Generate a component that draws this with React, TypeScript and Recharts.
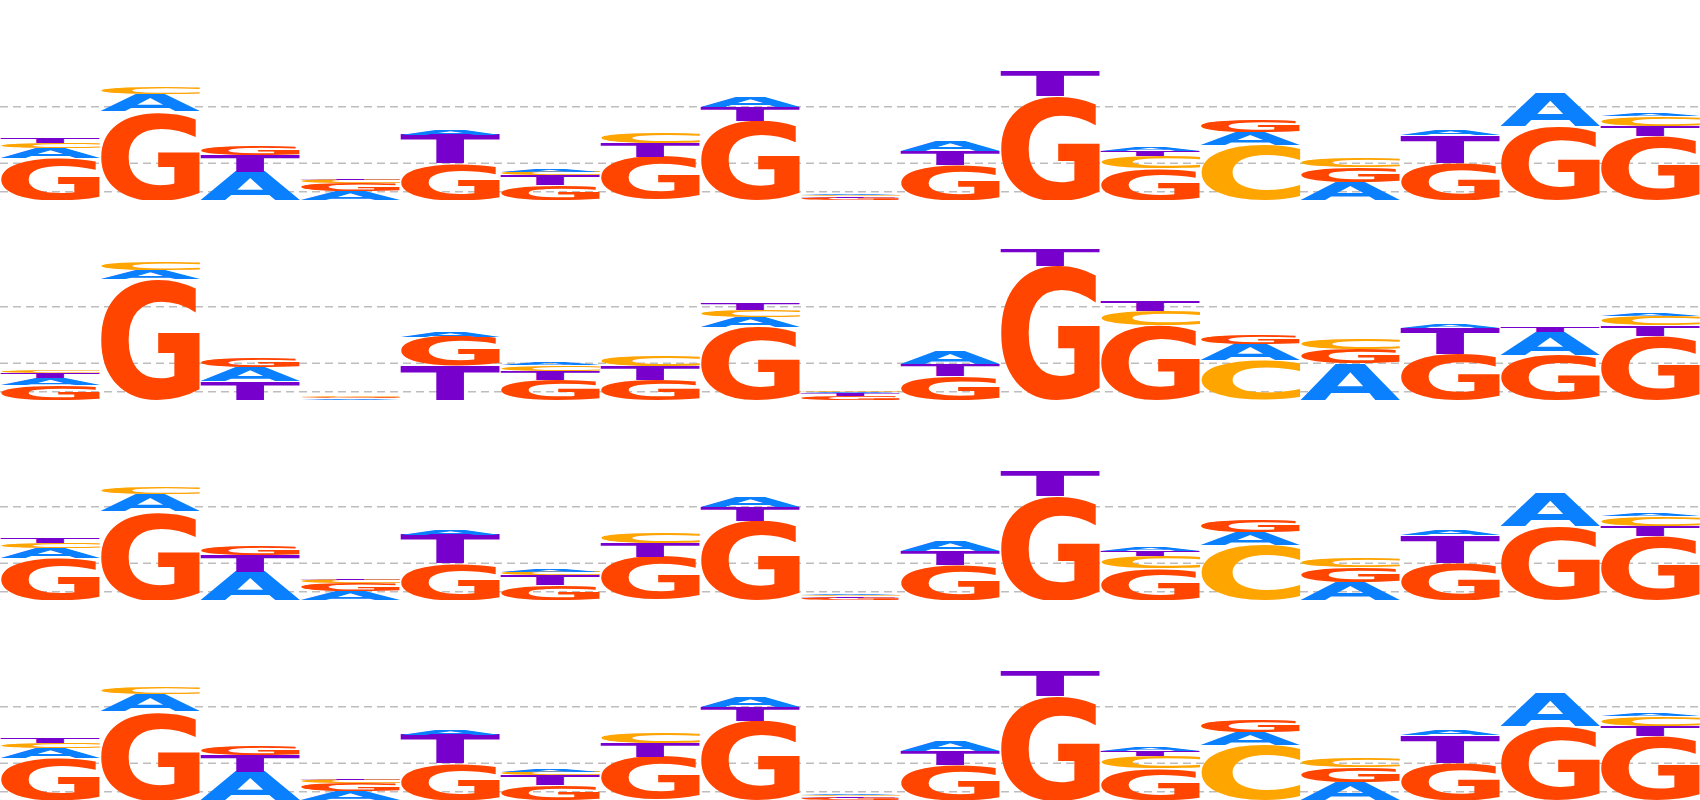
import React from "react";
import { BarChart, Bar, XAxis, YAxis, CartesianGrid } from "recharts";

const positions = ["1", "2", "3", "4", "5", "6", "7", "8", "9", "10", "11", "12", "13", "14", "15", "16", "17"];

// letters are listed bottom -> top, heights in bits
const motifALetters = ["GACT", "GAC", "ATG", "AGCT", "GTA", "GTCA", "GTC", "GTA", "GTCA", "GTA", "GT", "GCTA", "CAG", "AGC", "GTA", "GA", "GTCA"];
const motifAHeights = [
  [0.417, 0.1, 0.053, 0.057],
  [0.883, 0.173, 0.06],
  [0.283, 0.167, 0.09],
  [0.093, 0.073, 0.033, 0.017],
  [0.367, 0.283, 0.05],
  [0.15, 0.1, 0.033, 0.023],
  [0.427, 0.14, 0.1],
  [0.793, 0.14, 0.1],
  [0.023, 0.015, 0.008, 0.008],
  [0.35, 0.143, 0.107],
  [1.04, 0.25],
  [0.317, 0.123, 0.053, 0.04],
  [0.55, 0.133, 0.123],
  [0.183, 0.15, 0.09],
  [0.373, 0.277, 0.05],
  [0.733, 0.323],
  [0.64, 0.103, 0.097, 0.027],
];

const motifBLetters = ["GATC", "GAC", "TAG", "AGC", "TGA", "GTCA", "GTC", "GACT", "GTAC", "GTA", "GT", "GCT", "CAG", "AGC", "GTA", "GAT", "GTCA"];
const motifBHeights = [
  [0.15, 0.067, 0.057, 0.027],
  [1.207, 0.093, 0.083],
  [0.183, 0.15, 0.09],
  [0.017, 0.013, 0.01],
  [0.343, 0.29, 0.05],
  [0.2, 0.093, 0.057, 0.027],
  [0.2, 0.14, 0.103],
  [0.727, 0.1, 0.073, 0.06],
  [0.04, 0.027, 0.017, 0.008],
  [0.243, 0.113, 0.133],
  [1.343, 0.167],
  [0.75, 0.143, 0.1],
  [0.393, 0.167, 0.09],
  [0.367, 0.143, 0.1],
  [0.46, 0.257, 0.043],
  [0.45, 0.233, 0.057],
  [0.64, 0.11, 0.09, 0.027],
];

const gridValues = [0.083, 0.367, 0.933];

const COLORS: Record<string, string> = {
  A: "#0a80ff",
  C: "#ffa500",
  G: "#ff4500",
  T: "#7700cc",
};

const FONT = "DejaVu Sans";

const boxCache: Record<string, { l: number; r: number; a: number; d: number }> = {};
function glyphBox(ch: string) {
  if (!boxCache[ch]) {
    const ctx = document.createElement("canvas").getContext("2d")!;
    ctx.font = `bold 100px '${FONT}'`;
    const m = ctx.measureText(ch);
    boxCache[ch] = {
      l: m.actualBoundingBoxLeft,
      r: m.actualBoundingBoxRight,
      a: m.actualBoundingBoxAscent,
      d: m.actualBoundingBoxDescent,
    };
  }
  return boxCache[ch];
}

// stretch the glyph so its ink fills the bar rectangle
function Letter({ x, y, width, height, letter }: any) {
  if (!letter || !(height > 0) || !(width > 0)) return null;
  const b = glyphBox(letter);
  const sx = width / (b.l + b.r);
  const sy = height / (b.a + b.d);
  return (
    <text
      x={0}
      y={0}
      fontFamily={FONT}
      fontWeight="bold"
      fontSize={100}
      fill={COLORS[letter]}
      transform={`translate(${x + b.l * sx}, ${y + b.a * sy}) scale(${sx}, ${sy})`}
    >
      {letter}
    </text>
  );
}

function buildData(letters: string[], heights: number[][]) {
  return positions.map((pos, i) => {
    const row: any = { pos };
    for (let k = 0; k < 4; k++) {
      row[`h${k}`] = heights[i][k] ?? 0;
      row[`l${k}`] = letters[i][k] ?? "";
    }
    return row;
  });
}

const rows = [
  buildData(motifALetters, motifAHeights),
  buildData(motifBLetters, motifBHeights),
  buildData(motifALetters, motifAHeights),
  buildData(motifALetters, motifAHeights),
];

function LogoRow({ data }: { data: any[] }) {
  return (
    <BarChart
      width={1700}
      height={200}
      data={data}
      margin={{ top: 0, right: 0, bottom: 0, left: 0 }}
      barCategoryGap={0}
      barGap={0}
    >
      <CartesianGrid
        vertical={false}
        syncWithTicks
        stroke="#bdbdbd"
        strokeWidth={1.5}
        strokeDasharray="8 5"
      />
      <XAxis dataKey="pos" hide />
      <YAxis type="number" hide domain={[0, 2]} ticks={gridValues} interval={0} allowDataOverflow />
      {[0, 1, 2, 3].map((k) => (
        <Bar
          key={k}
          dataKey={`h${k}`}
          stackId="logo"
          isAnimationActive={false}
          shape={(p: any) => <Letter {...p} letter={p.payload?.[`l${k}`]} />}
        />
      ))}
    </BarChart>
  );
}

export default function App() {
  return (
    <div style={{ position: "absolute", left: 0, top: 0, width: 1700, background: "#fff" }}>
      {rows.map((data, i) => (
        <LogoRow key={i} data={data} />
      ))}
    </div>
  );
}
